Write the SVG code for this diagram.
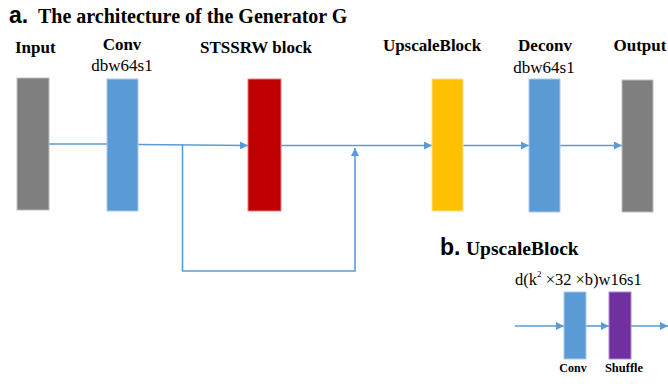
<svg xmlns="http://www.w3.org/2000/svg" width="668" height="384" viewBox="0 0 668 384">
  <style>
    .serif { font-family: "Liberation Serif", "Times New Roman", serif; fill: #000; }
    .lbl { font-size: 17px; font-weight: bold; }
    .sub { font-size: 17px; }
    .tag { font-family: "Liberation Sans", Arial, sans-serif; font-weight: bold; font-size: 23px; fill: #000; }
    .wire { fill: none; stroke: #5B9BD5; stroke-width: 1.6; }
    .gray { fill: #7F7F7F; stroke: #BFBFBF; stroke-width: 1; }
    .blue { fill: #5B9BD5; stroke: #A9C9EA; stroke-width: 1; }
    .red { fill: #C00000; stroke: #E08080; stroke-width: 1; }
    .yellow { fill: #FFC000; stroke: #FFE08A; stroke-width: 1; }
    .purple { fill: #7030A0; stroke: #B08CCB; stroke-width: 1; }
  </style>
  <defs>
    <marker id="arrow" viewBox="0 0 10 10" refX="10" refY="5" markerWidth="5" markerHeight="5" markerUnits="strokeWidth" orient="auto">
      <path d="M0,0 L10,5 L0,10 z" fill="#5B9BD5"/>
    </marker>
  </defs>

  <!-- headings -->
  <text class="tag" x="9" y="23">a.</text>
  <text class="serif" x="38" y="23" font-size="20" font-weight="bold">The architecture of the Generator G</text>
  <text class="tag" x="440" y="255">b.</text>
  <text class="serif" x="466" y="255" font-size="19.5" font-weight="bold">UpscaleBlock</text>

  <!-- connectors -->
  <g id="connectors">
    <path class="wire" d="M49,144 L107,144"/>
    <path class="wire" d="M138,144.5 L248,145.5" marker-end="url(#arrow)"/>
    <path class="wire" d="M182.5,144.5 L182.5,271 L355,271 L355,148" marker-end="url(#arrow)"/>
    <path class="wire" d="M281,145.5 L432,145.5" marker-end="url(#arrow)"/>
    <path class="wire" d="M463,145.5 L529,145.5" marker-end="url(#arrow)"/>
    <path class="wire" d="M560,145.5 L622,145.5" marker-end="url(#arrow)"/>
    <path class="wire" d="M515,326 L564,326" marker-end="url(#arrow)"/>
    <path class="wire" d="M586,326 L609,326" marker-end="url(#arrow)"/>
    <path class="wire" d="M631,326 L668,326" marker-end="url(#arrow)"/>
  </g>

  <!-- generator stages -->
  <g id="input">
    <rect class="gray" x="17" y="78" width="32" height="132"/>
    <text class="serif lbl" x="15" y="53">Input</text>
  </g>
  <g id="conv">
    <rect class="blue" x="107" y="79" width="31" height="132"/>
    <text class="serif lbl" x="122" y="50" text-anchor="middle">Conv</text>
    <text class="serif sub" x="122" y="71" text-anchor="middle">dbw64s1</text>
  </g>
  <g id="stssrw">
    <rect class="red" x="248" y="79" width="33" height="132"/>
    <text class="serif lbl" x="256" y="53" text-anchor="middle">STSSRW block</text>
  </g>
  <g id="upscale">
    <rect class="yellow" x="432" y="79" width="31" height="132"/>
    <text class="serif lbl" x="432" y="51" text-anchor="middle">UpscaleBlock</text>
  </g>
  <g id="deconv">
    <rect class="blue" x="529" y="79" width="31" height="133"/>
    <text class="serif lbl" x="545" y="51" text-anchor="middle">Deconv</text>
    <text class="serif sub" x="544" y="73" text-anchor="middle">dbw64s1</text>
  </g>
  <g id="output">
    <rect class="gray" x="622" y="80" width="31" height="132"/>
    <text class="serif lbl" x="640" y="51" text-anchor="middle">Output</text>
  </g>

  <!-- upscale block detail -->
  <text class="serif" x="515" y="285" font-size="16.5">d(k<tspan font-size="9" dy="-8">2</tspan><tspan dy="8"> ×32 ×b)w16s1</tspan></text>
  <g id="ub-conv">
    <rect class="blue" x="564" y="292" width="22" height="67"/>
    <text class="serif" x="573" y="372" font-size="12" font-weight="bold" text-anchor="middle">Conv</text>
  </g>
  <g id="ub-shuffle">
    <rect class="purple" x="609" y="292" width="22" height="67"/>
    <text class="serif" x="624" y="372" font-size="12.5" font-weight="bold" text-anchor="middle">Shuffle</text>
  </g>
</svg>
